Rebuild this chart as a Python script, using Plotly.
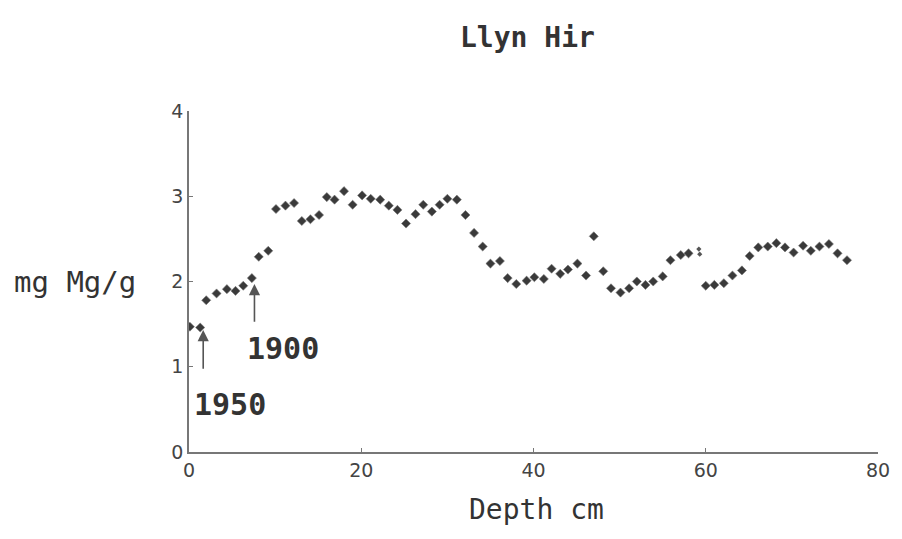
import plotly.graph_objects as go

# Data
depth_cm = [0.1, 1.3, 2.0, 3.2, 4.4, 5.4, 6.3, 7.3, 8.1, 9.2, 10.1, 11.2, 12.2, 13.1, 14.1,
            15.1, 16.0, 16.9, 18.0, 19.0, 20.1, 21.1, 22.2, 23.2, 24.2, 25.2, 26.3, 27.2,
            28.2, 29.1, 30.0, 31.1, 32.1, 33.1, 34.1, 35.0, 36.1, 37.0, 38.0, 39.2, 40.1,
            41.2, 42.1, 43.1, 44.0, 45.1, 46.1, 47.0, 48.1, 49.0, 50.1, 51.1, 52.0, 53.0,
            53.9, 55.0, 55.9, 57.1, 58.0, 60.0, 61.0, 62.1, 63.1, 64.2, 65.1, 66.1, 67.2,
            68.2, 69.2, 70.2, 71.3, 72.2, 73.2, 74.3, 75.3, 76.4]
mg_per_g = [1.47, 1.46, 1.78, 1.86, 1.91, 1.89, 1.95, 2.04, 2.29, 2.36, 2.85, 2.89, 2.92, 2.71,
            2.73, 2.78, 2.99, 2.96, 3.06, 2.90, 3.01, 2.97, 2.96, 2.89, 2.84, 2.68, 2.79, 2.90,
            2.82, 2.90, 2.97, 2.96, 2.78, 2.57, 2.41, 2.21, 2.24, 2.04, 1.97, 2.01, 2.05, 2.03,
            2.15, 2.09, 2.14, 2.21, 2.07, 2.53, 2.12, 1.92, 1.87, 1.92, 2.00, 1.96, 2.00, 2.06,
            2.25, 2.31, 2.33, 1.95, 1.96, 1.98, 2.07, 2.13, 2.30, 2.40, 2.41, 2.45, 2.40, 2.34,
            2.42, 2.36, 2.41, 2.44, 2.33, 2.25]
faint_depth = [59.2, 59.3]
faint_value = [2.38, 2.32]

x_ticks = [0, 20, 40, 60, 80]
y_ticks = [0, 1, 2, 3, 4]

# Date markers
date_labels = ["1950", "1900"]
date_depth = [1.65, 7.6]
date_tip = [1.43, 1.97]
date_tail = [0.96, 1.51]
date_label_x = [4.8, 10.9]
date_label_y = [0.56, 1.22]

MONO = "DejaVu Sans Mono"

fig = go.Figure()
fig.add_trace(go.Scatter(
    x=depth_cm, y=mg_per_g, mode="markers",
    marker=dict(symbol="diamond", size=7, color="#3a3a3a",
                line=dict(width=0.6, color="#777777")),
    showlegend=False, hoverinfo="x+y"))
fig.add_trace(go.Scatter(
    x=faint_depth, y=faint_value, mode="markers",
    marker=dict(symbol="diamond", size=4, color="#555555"),
    showlegend=False, hoverinfo="x+y"))

annotations = []
for lab, d, tip, tail, lx, ly in zip(date_labels, date_depth, date_tip, date_tail,
                                     date_label_x, date_label_y):
    annotations.append(dict(
        x=d, y=tip, ax=d, ay=tail, xref="x", yref="y", axref="x", ayref="y",
        text="", showarrow=True, arrowhead=2, arrowsize=1.4, arrowwidth=1.6,
        arrowcolor="#555555"))
    annotations.append(dict(
        x=lx, y=ly, xref="x", yref="y", text="<b>" + lab + "</b>", showarrow=False,
        font=dict(family=MONO, size=30, color="#333333"),
        xanchor="center", yanchor="middle"))

annotations.append(dict(
    x=0.4906, y=1.217, xref="paper", yref="paper", text="<b>Llyn Hir</b>",
    showarrow=False, font=dict(family=MONO, size=28, color="#333333"),
    xanchor="center", yanchor="middle"))
annotations.append(dict(
    x=-0.074, y=2, xref="paper", yref="y", text="mg Mg/g",
    showarrow=False, font=dict(family=MONO, size=29, color="#333333"),
    xanchor="right", yanchor="middle"))
annotations.append(dict(
    x=0.505, y=-0.17, xref="paper", yref="paper", text="Depth cm",
    showarrow=False, font=dict(family=MONO, size=28, color="#333333"),
    xanchor="center", yanchor="middle"))

fig.update_layout(
    width=902, height=539,
    margin=dict(l=189, r=18, t=111, b=87),
    paper_bgcolor="white", plot_bgcolor="white",
    annotations=annotations,
    xaxis=dict(range=[0, 80], tickvals=x_ticks, ticktext=[str(v) for v in x_ticks],
               showgrid=False, zeroline=False, showline=True, linecolor="#777777",
               linewidth=1.5, ticks="inside", ticklen=4, tickcolor="#777777",
               tickfont=dict(family="DejaVu Sans", size=19, color="#444444")),
    yaxis=dict(range=[0, 4], tickvals=y_ticks, ticktext=[str(v) for v in y_ticks],
               showgrid=False, zeroline=False, showline=True, linecolor="#777777",
               linewidth=1.5, ticks="inside", ticklen=4, tickcolor="#777777",
               tickfont=dict(family="DejaVu Sans", size=19, color="#444444")),
)

fig.write_html("out.html")
